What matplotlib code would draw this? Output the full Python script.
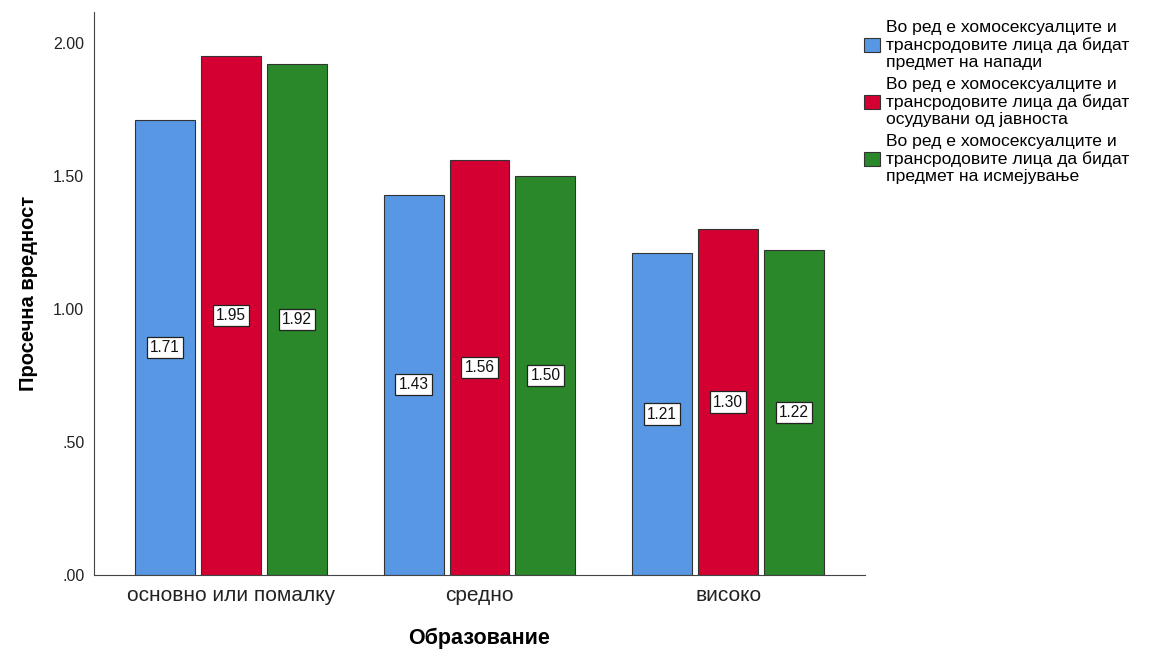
import matplotlib
matplotlib.use("Agg")
import matplotlib.pyplot as plt
import numpy as np
from matplotlib.patches import Patch

categories = ["основно или помалку", "средно", "високо"]
series_names = [
    "Во ред е хомосексуалците и\nтрансродовите лица да бидат\nпредмет на напади",
    "Во ред е хомосексуалците и\nтрансродовите лица да бидат\nосудувани од јавноста",
    "Во ред е хомосексуалците и\nтрансродовите лица да бидат\nпредмет на исмејување",
]
attacks = [1.71, 1.43, 1.21]
condemned = [1.95, 1.56, 1.30]
ridiculed = [1.92, 1.50, 1.22]
yticks = [0.0, 0.5, 1.0, 1.5, 2.0]
ytick_labels = [".00", ".50", "1.00", "1.50", "2.00"]
colors = ["#5797E3", "#D50032", "#2A872A"]

plt.rcParams['font.family'] = ['Liberation Sans', 'DejaVu Sans']

fig = plt.figure(figsize=(11.53, 6.5), dpi=100)
ax = fig.add_axes([94/1153, 75/650, (865-94)/1153, (575-12)/650])

x = np.arange(len(categories))
width = 0.241
step = 0.265
for i, (vals, c) in enumerate(zip([attacks, condemned, ridiculed], colors)):
    xs = x + (i - 1) * step
    ax.bar(xs, vals, width=width, color=c, edgecolor="#333333", linewidth=0.8, zorder=2)
    for xi, v in zip(xs, vals):
        ax.text(xi, v / 2, f"{v:.2f}", ha="center", va="center", fontsize=11.2, color="#111111",
                bbox=dict(boxstyle="square,pad=0.2", fc="white", ec="#222222", lw=0.9), zorder=3)

ax.set_xlim(-0.55, 2.55)
ax.set_ylim(0, (575-12)/266)
ax.set_yticks(yticks)
ax.set_yticklabels(ytick_labels, fontsize=11.5, color="#222222")
ax.set_xticks(x)
ax.set_xticklabels(categories, fontsize=15, color="#222222")
ax.tick_params(axis="y", length=0, pad=7)
ax.tick_params(axis="x", length=0, pad=8)
for s in ["top", "right"]:
    ax.spines[s].set_visible(False)
for s in ["left", "bottom"]:
    ax.spines[s].set_color("#444444")
    ax.spines[s].set_linewidth(0.8)

ax.set_ylabel("Просечна вредност", fontsize=14.5, fontweight="bold", labelpad=11)
ax.set_xlabel("Образование", fontsize=15.5, fontweight="bold", labelpad=16)

handles = [Patch(facecolor=c, edgecolor="#333333", linewidth=0.8) for c in colors]
leg = fig.legend(handles, series_names, loc="upper left", bbox_to_anchor=(864/1153, 1 - 20/650),
                 frameon=False, fontsize=12.6, handlelength=0.9, handleheight=0.8,
                 handletextpad=0.35, labelspacing=0.4, borderaxespad=0, borderpad=0)
for t in leg.get_texts():
    t.set_linespacing(1.17)

fig.savefig("out.png", dpi=100)
